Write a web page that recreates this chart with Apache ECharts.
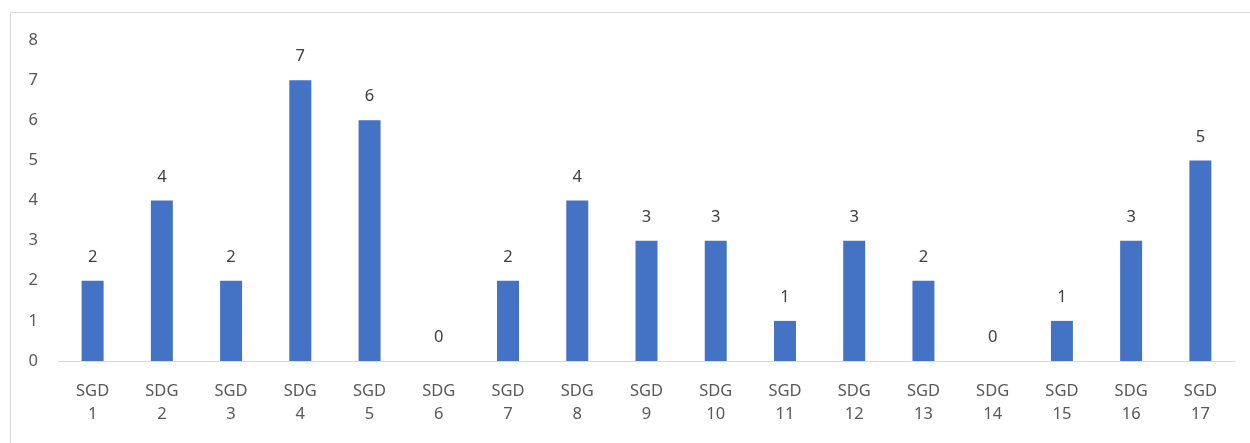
<!DOCTYPE html>
<html>
<head>
  <meta charset="UTF-8">
  <title></title>
  <script type="text/javascript" src="https://cdn.jsdelivr.net/npm/echarts@6/dist/echarts.min.js"></script>
  <style type="text/css">
    *{ margin: 0; padding: 0; box-sizing: border-box; }
    html, body{ width: 100%; height: 100%; background: #fff; }
    #main{ width: 1250px; height: 443px; }
  </style>
</head>
<body>
  <div id="main"></div>
  <script type="text/javascript">
    // 类别与数值
    var categories = ['SGD\n1', 'SDG\n2', 'SGD\n3', 'SDG\n4', 'SGD\n5', 'SDG\n6', 'SGD\n7', 'SDG\n8', 'SGD\n9',
                      'SDG\n10', 'SGD\n11', 'SDG\n12', 'SGD\n13', 'SDG\n14', 'SGD\n15', 'SDG\n16', 'SGD\n17'];
    var counts = [2, 4, 2, 7, 6, 0, 2, 4, 3, 3, 1, 3, 2, 0, 1, 3, 5];
    var yTicks = [0, 8, 1]; // min, max, interval

    var myChart = echarts.init(document.getElementById('main'));
    var option = {
      animation: false,
      textStyle: { fontFamily: 'Noto Sans' },
      graphic: [{
        type: 'rect', left: 10, top: 12, z: -1,
        shape: { width: 1260, height: 450 },
        style: { fill: '#fff', stroke: '#d9d9d9', lineWidth: 1 }
      }],
      grid: { left: 58, right: 15, top: 40, bottom: 82 },
      xAxis: {
        type: 'category',
        data: categories,
        axisLine: { lineStyle: { color: '#d9d9d9', width: 1 } },
        axisTick: { show: false },
        axisLabel: { color: '#595959', fontSize: 16.5, lineHeight: 23, margin: 19, interval: 0 }
      },
      yAxis: {
        type: 'value',
        min: yTicks[0], max: yTicks[1], interval: yTicks[2],
        axisLine: { show: false },
        axisTick: { show: false },
        splitLine: { show: false },
        axisLabel: { color: '#595959', fontSize: 16.5, margin: 20 }
      },
      series: [{
        type: 'bar',
        data: counts,
        barWidth: 22,
        itemStyle: { color: '#4472c4' },
        label: { show: true, position: 'top', distance: 15, color: '#404040', fontSize: 16.5 }
      }]
    };
    myChart.setOption(option);
  </script>
</body>
</html>
